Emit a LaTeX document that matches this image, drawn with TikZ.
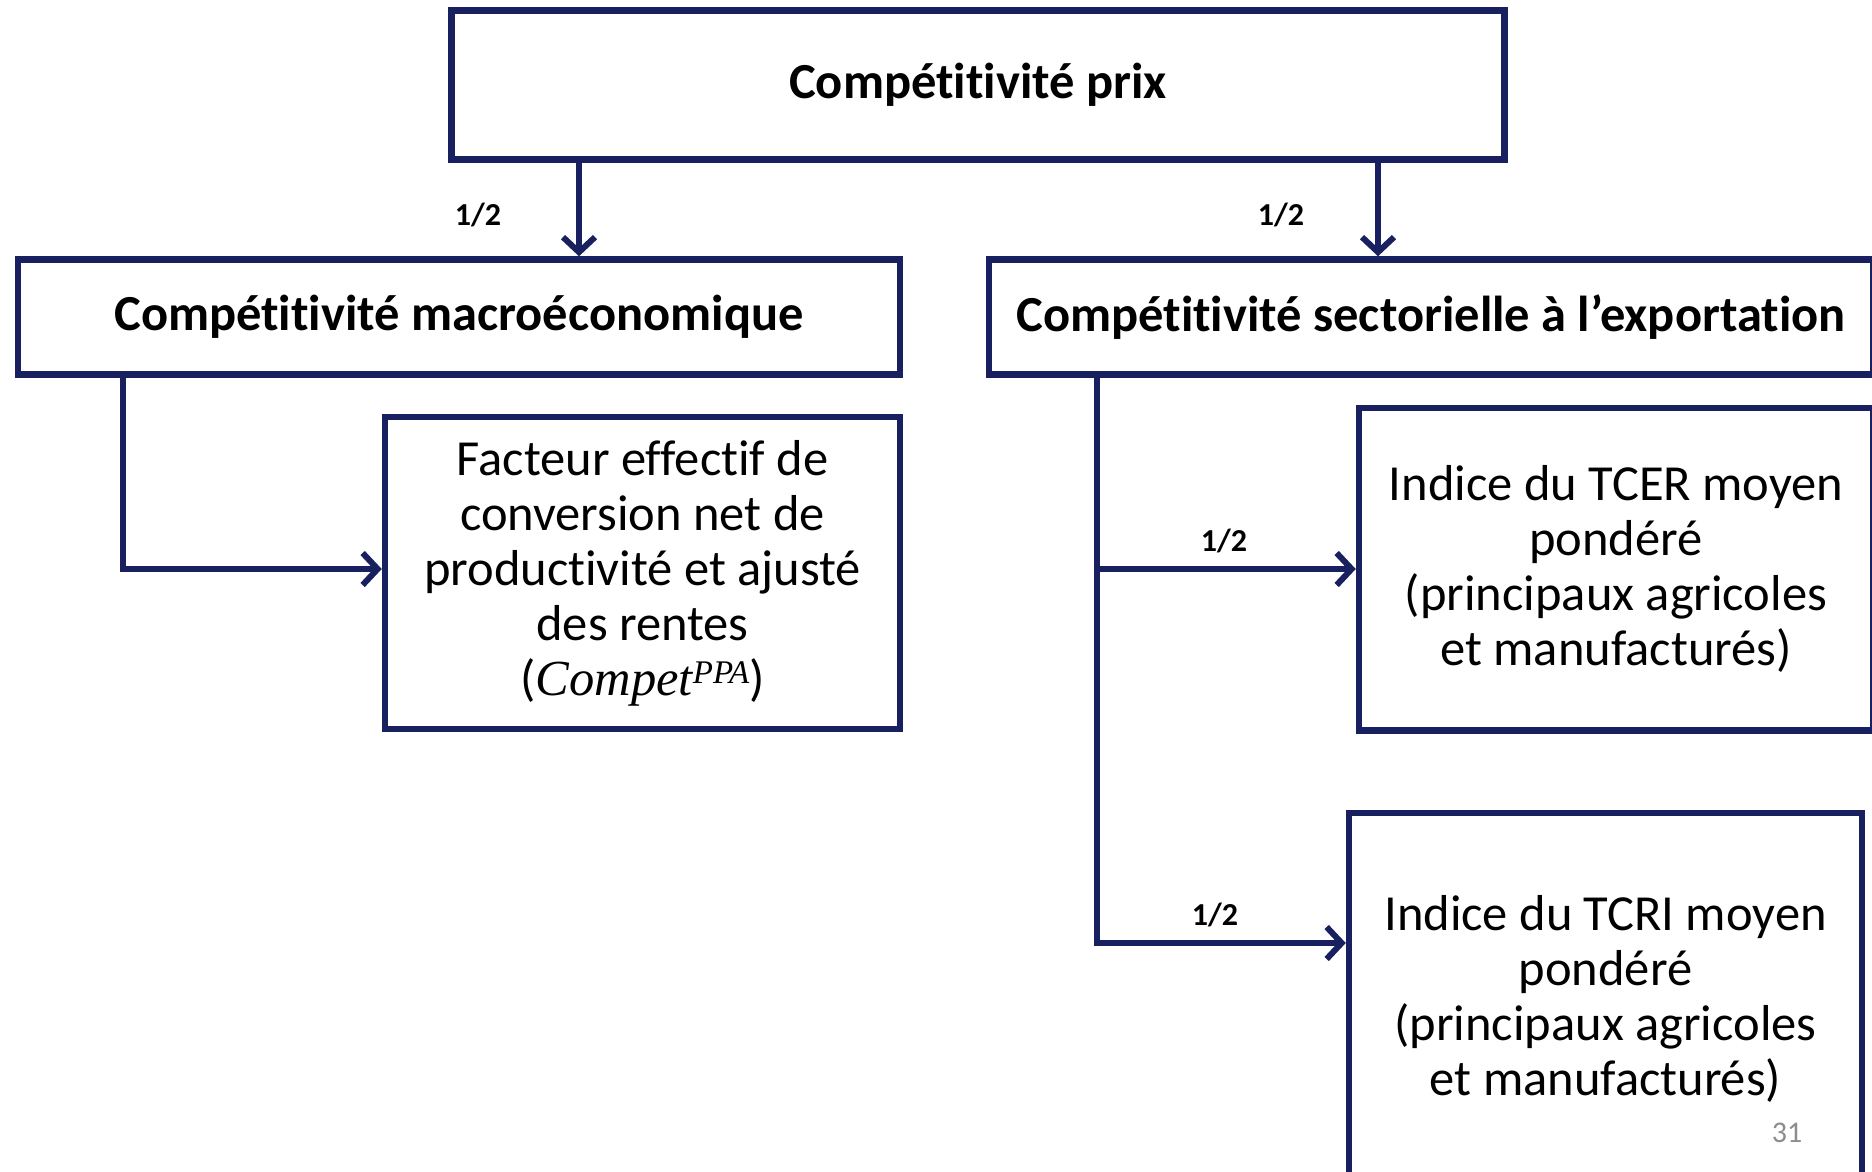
\documentclass[tikz,border=0pt]{standalone}
\usepackage{fontspec}
\setmainfont{Carlito}[Ligatures=NoCommon]
\newfontfamily\mathlike{Liberation Serif}
\usetikzlibrary{arrows.meta}
\definecolor{navy}{RGB}{24,32,96}
\definecolor{pgnum}{RGB}{140,140,140}
\begin{document}
\begin{tikzpicture}[x=1pt,y=-1pt,
  box/.style={draw=navy, line width=6.5pt, fill=white, align=center, inner sep=0pt},
  head/.style={font=\fontsize{50.5}{55}\selectfont\bfseries},
  body/.style={font=\fontsize{50.5}{55}\selectfont},
  conn/.style={draw=navy, line width=6pt, -{Straight Barb[length=15pt,width=32pt]}},
  wlabel/.style={font=\fontsize{32}{36}\selectfont\bfseries, inner sep=0pt},
]
\useasboundingbox (0,0) rectangle (1872,1171);
\clip (0,0) rectangle (1872,1171);
\fill[white] (0,0) rectangle (1872,1171);

\node[box, head, minimum width=1053pt, minimum height=149pt] (prix) at (978,85) {Compétitivité prix};
\node[box, head, minimum width=882pt, minimum height=115pt] (macro) at (459,317) {Compétitivité macroéconomique};
\node[box, head, minimum width=884pt, minimum height=115pt] (sect) at (1431,317) {Compétitivité sectorielle à l’exportation};
\node[box, body, minimum width=515pt, minimum height=312pt] (fact) at (642.5,573) {Facteur effectif de\\conversion net de\\productivité et ajusté\\des rentes\\({\mathlike\itshape Compet}\raisebox{0.5ex}{\fontsize{33}{36}\selectfont\mathlike\itshape PPA})};
\node[box, body, minimum width=514pt, minimum height=322.5pt] (tcer) at (1616,569) {Indice du TCER moyen\\pondéré\\(principaux agricoles\\et manufacturés)};
\node[box, body, minimum width=513pt, minimum height=372pt] (tcri) at (1605.5,999) {Indice du TCRI moyen\\pondéré\\(principaux agricoles\\et manufacturés)};

\coordinate (xL) at (579,0);
\coordinate (xR) at (1378,0);
\coordinate (xm) at (123,0);
\coordinate (xs) at (1097,0);
\coordinate (y1) at (0,569);
\coordinate (y2) at (0,943);

\draw[conn] (prix.south -| xL) -- (macro.north -| xL);
\draw[conn] (prix.south -| xR) -- (sect.north -| xR);
\draw[conn] (macro.south -| xm) |- (fact.west |- y1);
\draw[conn] (sect.south -| xs) |- (tcer.west |- y1);
\draw[conn] (sect.south -| xs) |- (tcri.west |- y2);

\node[wlabel] (l1) at (478,215) {1/2};
\node[wlabel] (l2) at (1281,215) {1/2};
\node[wlabel] (l3) at (1224,541) {1/2};
\node[wlabel] (l4) at (1215,915) {1/2};

\node[font=\fontsize{30}{36}\selectfont, text=pgnum, inner sep=0pt] (pg) at (1787,1133) {31};
\end{tikzpicture}
\end{document}
